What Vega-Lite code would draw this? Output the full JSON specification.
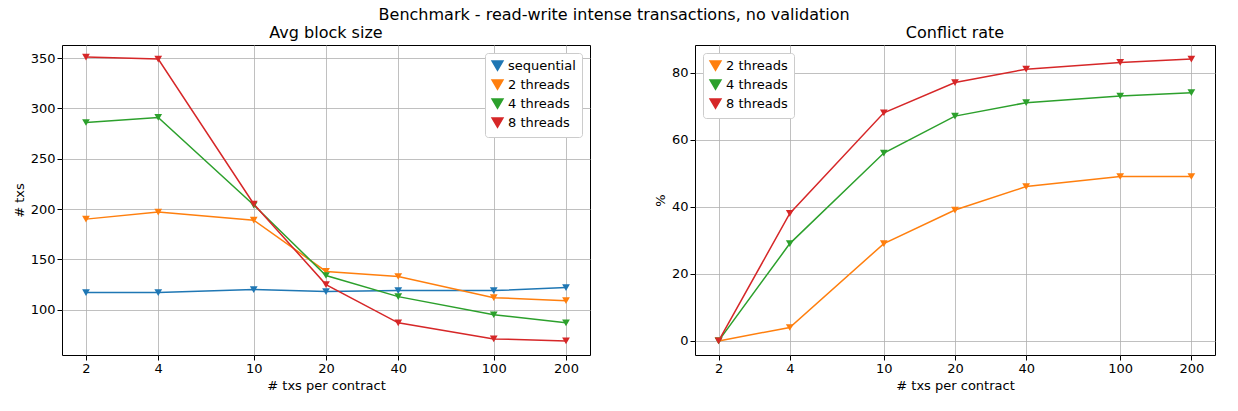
{
  "$schema": "https://vega.github.io/schema/vega-lite/v6.json",
  "padding": {"left": 12, "top": 6, "right": 5, "bottom": 5},
  "background": "white",
  "title": {"text": "Benchmark - read-write intense transactions, no validation", "fontSize": 16, "fontWeight": "normal", "font": "DejaVu Sans", "anchor": "middle", "offset": 2},
  "config": {
    "font": "DejaVu Sans",
    "view": {"stroke": "black", "strokeWidth": 1},
    "axis": {"labelFont": "DejaVu Sans", "labelFontSize": 13, "titleFont": "DejaVu Sans", "titleFontSize": 13, "titleFontWeight": "normal", "labelColor": "black", "titleColor": "black", "domain": false, "tickColor": "black", "gridColor": "#b0b0b0", "gridWidth": 0.8},
    "title": {"fontSize": 16, "fontWeight": "normal", "font": "DejaVu Sans", "offset": 4},
    "legend": {"labelFont": "DejaVu Sans", "labelFontSize": 13, "strokeColor": "#cccccc", "fillColor": "white", "padding": 6, "cornerRadius": 3, "symbolType": "triangle-down", "symbolStrokeWidth": 2}
  },
  "data": {"values": [
    {"p": "L", "s": "sequential", "x": 2, "y": 117}, {"p": "L", "s": "sequential", "x": 4, "y": 117}, {"p": "L", "s": "sequential", "x": 10, "y": 120}, {"p": "L", "s": "sequential", "x": 20, "y": 118}, {"p": "L", "s": "sequential", "x": 40, "y": 119}, {"p": "L", "s": "sequential", "x": 100, "y": 119}, {"p": "L", "s": "sequential", "x": 200, "y": 122},
    {"p": "L", "s": "2 threads", "x": 2, "y": 190}, {"p": "L", "s": "2 threads", "x": 4, "y": 197}, {"p": "L", "s": "2 threads", "x": 10, "y": 189}, {"p": "L", "s": "2 threads", "x": 20, "y": 138}, {"p": "L", "s": "2 threads", "x": 40, "y": 133}, {"p": "L", "s": "2 threads", "x": 100, "y": 112}, {"p": "L", "s": "2 threads", "x": 200, "y": 109},
    {"p": "L", "s": "4 threads", "x": 2, "y": 286}, {"p": "L", "s": "4 threads", "x": 4, "y": 291}, {"p": "L", "s": "4 threads", "x": 10, "y": 204}, {"p": "L", "s": "4 threads", "x": 20, "y": 134}, {"p": "L", "s": "4 threads", "x": 40, "y": 113}, {"p": "L", "s": "4 threads", "x": 100, "y": 95}, {"p": "L", "s": "4 threads", "x": 200, "y": 87},
    {"p": "L", "s": "8 threads", "x": 2, "y": 351}, {"p": "L", "s": "8 threads", "x": 4, "y": 349}, {"p": "L", "s": "8 threads", "x": 10, "y": 205}, {"p": "L", "s": "8 threads", "x": 20, "y": 125}, {"p": "L", "s": "8 threads", "x": 40, "y": 87}, {"p": "L", "s": "8 threads", "x": 100, "y": 71}, {"p": "L", "s": "8 threads", "x": 200, "y": 69},
    {"p": "R", "s": "2 threads", "x": 2, "y": 0}, {"p": "R", "s": "2 threads", "x": 4, "y": 4}, {"p": "R", "s": "2 threads", "x": 10, "y": 29}, {"p": "R", "s": "2 threads", "x": 20, "y": 39}, {"p": "R", "s": "2 threads", "x": 40, "y": 46}, {"p": "R", "s": "2 threads", "x": 100, "y": 49}, {"p": "R", "s": "2 threads", "x": 200, "y": 49},
    {"p": "R", "s": "4 threads", "x": 2, "y": 0}, {"p": "R", "s": "4 threads", "x": 4, "y": 29}, {"p": "R", "s": "4 threads", "x": 10, "y": 56}, {"p": "R", "s": "4 threads", "x": 20, "y": 67}, {"p": "R", "s": "4 threads", "x": 40, "y": 71}, {"p": "R", "s": "4 threads", "x": 100, "y": 73}, {"p": "R", "s": "4 threads", "x": 200, "y": 74},
    {"p": "R", "s": "8 threads", "x": 2, "y": 0}, {"p": "R", "s": "8 threads", "x": 4, "y": 38}, {"p": "R", "s": "8 threads", "x": 10, "y": 68}, {"p": "R", "s": "8 threads", "x": 20, "y": 77}, {"p": "R", "s": "8 threads", "x": 40, "y": 81}, {"p": "R", "s": "8 threads", "x": 100, "y": 83}, {"p": "R", "s": "8 threads", "x": 200, "y": 84}
  ]},
  "spacing": 62,
  "resolve": {"scale": {"color": "independent"}},
  "hconcat": [
    {
      "title": "Avg block size",
      "width": 528, "height": 310,
      "transform": [{"filter": "datum.p == 'L'"}],
      "mark": {"type": "line", "point": {"shape": "triangle-down", "size": 60, "filled": true}, "strokeWidth": 1.5},
      "encoding": {
        "x": {"field": "x", "type": "quantitative", "title": "# txs per contract", "scale": {"type": "log", "domain": [1.589, 251.8], "nice": false}, "axis": {"values": [2, 4, 10, 20, 40, 100, 200], "format": "d"}},
        "y": {"field": "y", "type": "quantitative", "title": "# txs", "scale": {"domain": [55, 363], "nice": false, "zero": false}, "axis": {"values": [100, 150, 200, 250, 300, 350]}},
        "color": {"field": "s", "type": "nominal", "title": null, "scale": {"domain": ["sequential", "2 threads", "4 threads", "8 threads"], "range": ["#1f77b4", "#ff7f0e", "#2ca02c", "#d62728"]}, "legend": {"orient": "top-right", "offset": 8}}
      }
    },
    {
      "title": "Conflict rate",
      "width": 520, "height": 310,
      "transform": [{"filter": "datum.p == 'R'"}],
      "mark": {"type": "line", "point": {"shape": "triangle-down", "size": 60, "filled": true}, "strokeWidth": 1.5},
      "encoding": {
        "x": {"field": "x", "type": "quantitative", "title": "# txs per contract", "scale": {"type": "log", "domain": [1.589, 251.8], "nice": false}, "axis": {"values": [2, 4, 10, 20, 40, 100, 200], "format": "d"}},
        "y": {"field": "y", "type": "quantitative", "title": "%", "scale": {"domain": [-4.2, 88.2], "nice": false, "zero": false}, "axis": {"values": [0, 20, 40, 60, 80]}},
        "color": {"field": "s", "type": "nominal", "title": null, "scale": {"domain": ["2 threads", "4 threads", "8 threads"], "range": ["#ff7f0e", "#2ca02c", "#d62728"]}, "legend": {"orient": "top-left", "offset": 8}}
      }
    }
  ]
}
